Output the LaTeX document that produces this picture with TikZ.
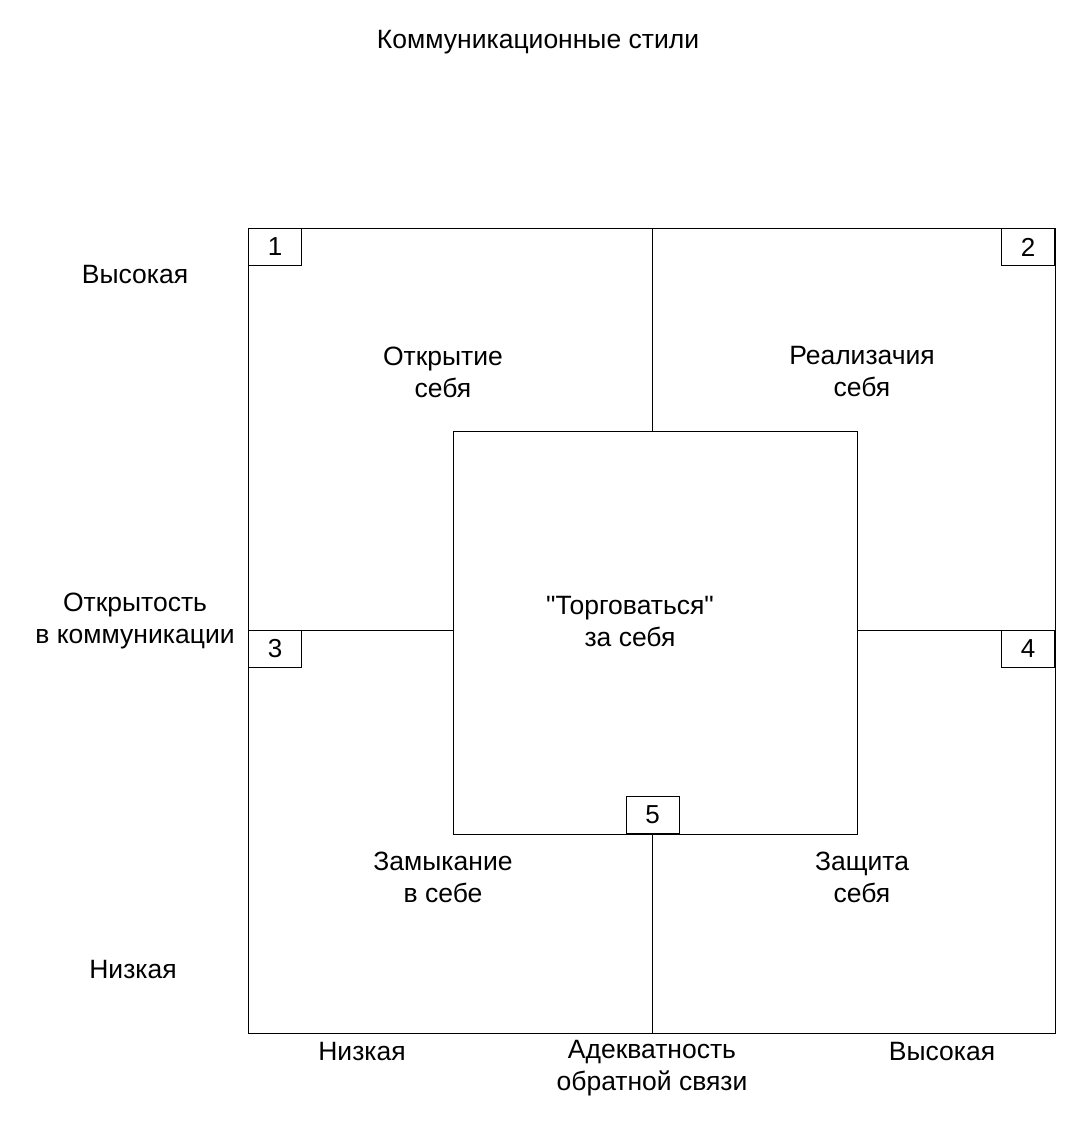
\documentclass[tikz,border=0pt]{standalone}
\usepackage{fontspec}
\newfontfamily\arf{Liberation Sans}
\begin{document}
\begin{tikzpicture}[x=1pt,y=-1pt,
  ln/.style={draw=black,line width=1pt},
  lbl/.style={font=\arf\fontsize{26.5}{32}\selectfont,align=center,inner sep=0pt},
  numbox/.style={draw=black,line width=1pt,minimum width=53pt,minimum height=37pt,inner sep=0pt,font=\arf\fontsize{26}{30}\selectfont}]
\useasboundingbox (0,0) rectangle (1076,1135);
\node[lbl] (title) at (538,42) {Коммуникационные стили};
\node[ln,minimum width=807pt,minimum height=805pt,inner sep=0pt] (outer) at (651.5,630.5) {};
\node[ln,fill=white,minimum width=404pt,minimum height=403pt,inner sep=0pt] (inner) at (655,632.5) {};
\coordinate (tt) at (652,228);
\coordinate (ti) at (652,431);
\coordinate (bi) at (652,834);
\coordinate (bb) at (652,1033);
\coordinate (ll) at (248,630);
\coordinate (li) at (453,630);
\coordinate (ri) at (857,630);
\coordinate (rr) at (1055,630);
\draw[ln] (tt) -- (ti);
\draw[ln] (bi) -- (bb);
\draw[ln] (ll) -- (li);
\draw[ln] (ri) -- (rr);
\node[numbox,anchor=north west] (n1) at (248,228) {1};
\node[numbox,anchor=north east] (n2) at (1055,228) {2};
\node[numbox,anchor=north west] (n3) at (248,630) {3};
\node[numbox,anchor=north east] (n4) at (1055,630) {4};
\node[numbox,anchor=south] (n5) at (652.5,834) {5};
\node[lbl] (yh) at (135,275) {Высокая};
\node[lbl] (ya) at (135,621) {Открытость\\в коммуникации};
\node[lbl] (yl) at (133,970) {Низкая};
\node[lbl] (xl) at (362,1052) {Низкая};
\node[lbl] (xa) at (652,1068) {Адекватность\\обратной связи};
\node[lbl] (xh) at (942,1052) {Высокая};
\node[lbl] (q1) at (443,372) {Открытие\\себя};
\node[lbl] (q2) at (862,372) {Реализачия\\себя};
\node[lbl] (q5) at (630,622) {"Торговаться"\\за себя};
\node[lbl] (q3) at (443,877) {Замыкание\\в себе};
\node[lbl] (q4) at (862,877) {Защита\\себя};
\end{tikzpicture}
\end{document}
